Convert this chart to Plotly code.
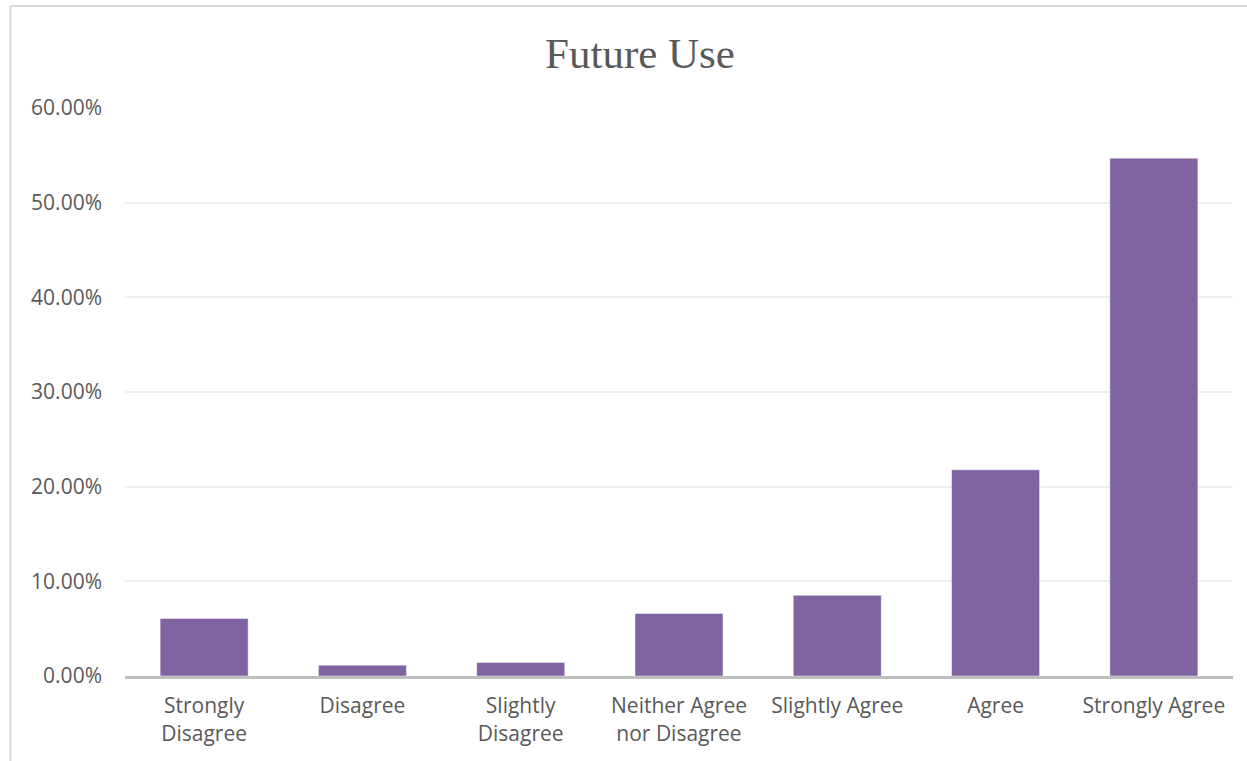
import plotly.graph_objects as go

categories = ["Strongly Disagree", "Disagree", "Slightly Disagree",
              "Neither Agree nor Disagree", "Slightly Agree", "Agree", "Strongly Agree"]
tick_labels = ["Strongly<br>Disagree", "Disagree", "Slightly<br>Disagree",
               "Neither Agree<br>nor Disagree", "Slightly Agree", "Agree", "Strongly Agree"]
values = [0.0608, 0.0114, 0.0143, 0.0661, 0.0852, 0.2178, 0.5470]
y_ticks = [0, 0.1, 0.2, 0.3, 0.4, 0.5, 0.6]

W, H = 1247, 761
ml, mr, mt, mb = 125, 14, 108, 85
pw, ph = W - ml - mr, H - mt - mb

def px_x(x):
    return (x - ml) / pw

def px_y(y):
    return (H - mb - y) / ph

fig = go.Figure()
fig.add_trace(go.Bar(
    x=categories, y=values,
    marker=dict(color="#8064A2", line=dict(color="rgba(255,255,255,0.45)", width=1)),
    hoverinfo="x+y",
))

tick_font = dict(family="Open Sans, Calibri, sans-serif", size=21, color="#595959")

fig.update_layout(
    width=W, height=H,
    margin=dict(l=ml, r=mr, t=mt, b=mb),
    paper_bgcolor="white", plot_bgcolor="white",
    bargap=0.444,
    showlegend=False,
    title=dict(
        text="Future Use",
        x=640 / W, xref="container", xanchor="center",
        y=1 - 53 / H, yref="container", yanchor="middle",
        font=dict(family="Liberation Serif, Cambria, serif", size=43, color="#595959"),
    ),
    xaxis=dict(
        categoryorder="array", categoryarray=categories,
        tickmode="array", tickvals=categories, ticktext=tick_labels,
        showline=True, linecolor="#BFBFBF", linewidth=3,
        showgrid=False, ticks="", tickfont=tick_font,
        ticklabelstandoff=9,
    ),
    yaxis=dict(
        range=[0, 0.6], tickmode="array", tickvals=y_ticks,
        tickformat=".2%", showgrid=True, gridcolor="#EFEFEF", gridwidth=1.5,
        zeroline=False, showline=False, ticks="", tickfont=tick_font,
        ticklabelstandoff=22,
    ),
    shapes=[
        dict(type="line", xref="paper", yref="paper",
             x0=px_x(10.5), x1=px_x(W + 5), y0=px_y(6), y1=px_y(6),
             line=dict(color="#D9D9D9", width=2)),
        dict(type="line", xref="paper", yref="paper",
             x0=px_x(10.5), x1=px_x(10.5), y0=px_y(6), y1=px_y(H + 5),
             line=dict(color="#D9D9D9", width=2)),
    ],
)

fig.write_html("out.html")
